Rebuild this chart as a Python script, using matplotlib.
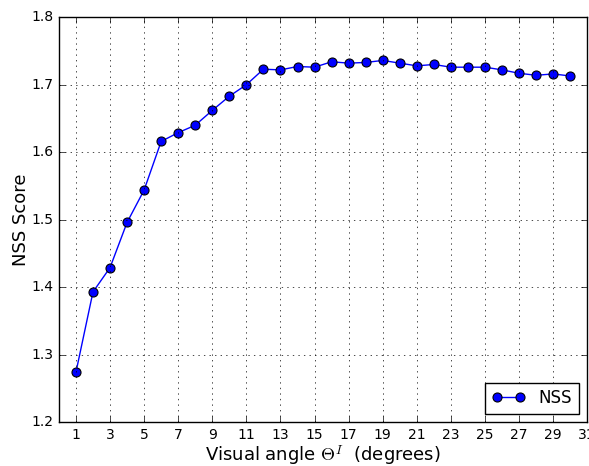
import matplotlib.pyplot as plt

plt.style.use("classic")

angles = list(range(1, 31))
nss = [1.274, 1.393, 1.429, 1.496, 1.544, 1.616, 1.629, 1.640, 1.662, 1.683,
       1.700, 1.723, 1.722, 1.727, 1.726, 1.734, 1.732, 1.733, 1.736, 1.732,
       1.728, 1.730, 1.726, 1.726, 1.726, 1.722, 1.717, 1.714, 1.716, 1.713]
xticks = list(range(1, 32, 2))
yticks = [1.2, 1.3, 1.4, 1.5, 1.6, 1.7, 1.8]

fig = plt.figure(figsize=(5.89, 4.66), dpi=100, facecolor="white")
ax = fig.add_axes([0.100, 0.094, 0.897, 0.869])

ax.plot(angles, nss, "o-", color="b", markersize=6.5, markeredgewidth=0.8,
        label="NSS")

ax.set_xlim(0, 31)
ax.set_ylim(1.2, 1.8)
ax.set_xticks(xticks)
ax.set_yticks(yticks)
ax.tick_params(labelsize=10)
ax.grid(True)

ax.set_xlabel(r"Visual angle $\Theta^I$  (degrees)", fontsize=13, labelpad=1)
ax.set_ylabel("NSS Score", fontsize=13, labelpad=1)
ax.legend(loc="lower right", fontsize=12)

fig.savefig("out.png", dpi=100, facecolor="white")
